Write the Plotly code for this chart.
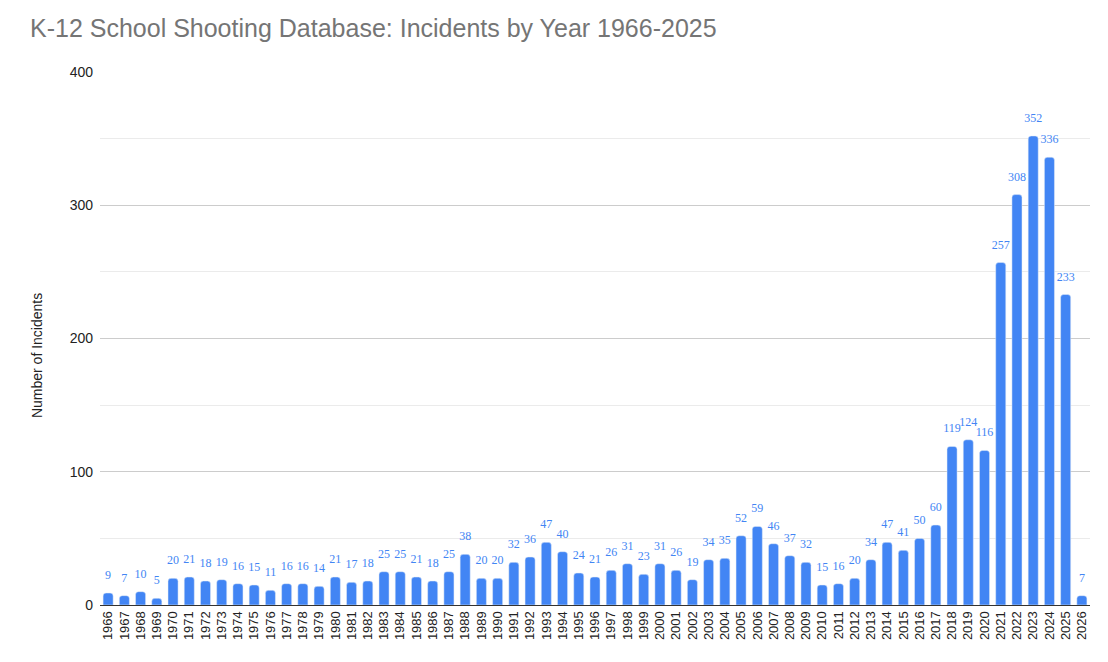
import plotly.graph_objects as go

years = [str(y) for y in range(1966, 2027)]
incidents = [9, 7, 10, 5, 20, 21, 18, 19, 16, 15, 11, 16, 16, 14, 21, 17, 18, 25, 25, 21,
             18, 25, 38, 20, 20, 32, 36, 47, 40, 24, 21, 26, 31, 23, 31, 26, 19, 34, 35, 52,
             59, 46, 37, 32, 15, 16, 20, 34, 47, 41, 50, 60, 119, 124, 116, 257, 308, 352, 336, 233, 7]

fig = go.Figure()
fig.add_trace(go.Bar(
    x=years, y=incidents,
    marker=dict(color="#4285F4", cornerradius=3),
    hoverinfo="x+y",
))
fig.add_trace(go.Scatter(
    x=years, y=incidents,
    mode="markers+text",
    marker=dict(size=16, opacity=0, color="#4285F4"),
    text=[str(v) for v in incidents],
    textposition="top center",
    textfont=dict(family="Liberation Serif", size=12, color="#4285F4"),
    cliponaxis=False,
    hoverinfo="skip",
))

fig.update_layout(
    width=1100, height=654,
    margin=dict(l=92, r=18, t=64, b=57),
    paper_bgcolor="white", plot_bgcolor="white",
    bargap=0.38,
    showlegend=False,
    title=dict(text="K-12 School Shooting Database: Incidents by Year 1966-2025",
               x=0.02, xanchor="left", y=0.969, yanchor="middle",
               font=dict(family="Liberation Sans", size=25, color="#757575")),
    font=dict(family="Liberation Sans", color="#222222"),
    annotations=[dict(
        text="Number of Incidents", textangle=-90,
        xref="paper", yref="paper", x=0, y=0.467, xanchor="center", yanchor="middle",
        xshift=-63, showarrow=False,
        font=dict(family="Liberation Sans", size=14, color="#222222"),
    )],
)
fig.update_xaxes(
    type="category", range=[-0.5, len(years) - 0.5],
    tickangle=-90, tickfont=dict(size=13, color="#222222"),
    showline=True, linecolor="#333333", linewidth=1, ticks="", showgrid=False,
)
fig.update_yaxes(
    range=[0, 400], dtick=100, tickfont=dict(size=14, color="#222222"),
    showgrid=True, gridcolor="#cccccc", zeroline=False,
    minor=dict(dtick=50, showgrid=True, gridcolor="#ebebeb"),
    ticks="", ticklabelstandoff=6,
)

fig.write_html("out.html")
